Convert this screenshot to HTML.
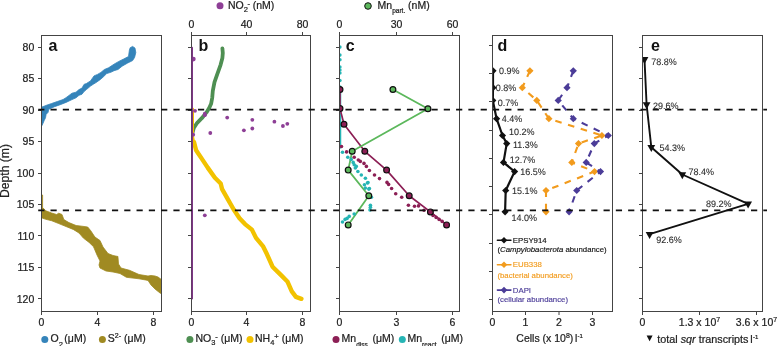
<!DOCTYPE html>
<html><head><meta charset="utf-8"><style>html,body{margin:0;padding:0;background:#fff;width:778px;height:346px;overflow:hidden}svg text{font-family:"Liberation Sans", sans-serif}svg{will-change:transform}</style></head>
<body><svg width="778" height="346" viewBox="0 0 778 346" style="display:block;font-family:'Liberation Sans', sans-serif"><defs><clipPath id="cla"><rect x="41.5" y="35.5" width="120.0" height="276.0"/></clipPath><clipPath id="clb"><rect x="191.5" y="35.5" width="119.0" height="276.0"/></clipPath><clipPath id="clc"><rect x="339.5" y="35.5" width="120.0" height="276.0"/></clipPath><clipPath id="cld"><rect x="492.5" y="35.5" width="120.0" height="276.0"/></clipPath><clipPath id="cle"><rect x="642.5" y="35.5" width="120.0" height="276.0"/></clipPath></defs>
<g clip-path="url(#cla)">
<polygon points="41.0,107.0 42.9,106.7 45.8,105.5 51.6,103.5 57.3,101.5 63.1,99.5 66.0,97.7 72.0,93.2 76.0,92.2 79.0,89.6 82.0,88.1 84.0,84.4 86.4,83.5 90.5,80.9 94.0,75.9 97.5,74.4 100.9,72.4 104.4,69.5 108.5,67.8 114.0,64.2 118.8,61.4 123.7,59.0 128.5,56.5 129.4,50.1 130.2,47.7 132.6,46.4 135.0,48.1 135.8,52.5 134.6,57.4 132.6,60.6 127.7,63.0 122.1,66.2 118.0,69.5 114.0,70.7 111.3,72.1 106.7,73.6 103.2,77.0 99.8,79.9 96.0,82.6 93.3,84.2 90.5,86.1 86.4,89.6 84.0,91.6 82.0,94.2 79.0,95.3 76.0,97.8 72.0,99.6 66.0,102.4 60.2,104.7 54.5,106.7 48.7,109.3 48.1,112.3 46.1,114.4 45.5,117.8 44.1,120.7 42.9,123.6 41.8,125.9 41.0,126.0" fill="#3584ba" stroke="#3584ba" stroke-width="0.8" stroke-linejoin="round"/>
<polygon points="41.5,195.0 42.6,195.0 42.6,207.5 45.8,210.8 51.6,213.0 56.6,214.5 58.8,213.2 62.0,214.5 63.8,219.5 68.9,222.6 76.1,225.5 81.9,226.2 87.7,227.0 90.6,230.5 94.9,237.0 100.0,240.5 103.0,247.0 108.0,253.5 113.0,255.5 118.0,256.5 118.0,257.5 118.5,264.0 121.0,268.0 129.5,270.3 139.0,274.5 148.0,276.0 151.0,275.5 155.0,276.0 158.0,277.0 162.0,280.0 162.0,294.0 160.0,293.0 155.0,289.0 151.0,285.0 148.0,280.4 139.0,278.8 126.4,277.3 120.0,273.5 113.0,272.0 106.0,271.0 100.0,268.0 99.0,265.0 100.0,261.0 97.0,255.0 93.5,246.7 89.1,242.4 83.4,238.1 79.0,233.0 73.2,229.4 66.0,226.5 58.8,223.6 51.6,220.7 45.8,219.3 41.5,217.8" fill="#a08a22" stroke="#a08a22" stroke-width="0.8" stroke-linejoin="round"/>
</g>
<g clip-path="url(#clb)">
<polyline points="222.4,48.3 222.8,53.0 222.4,57.9 220.6,64.8 217.2,74.4 214.5,82.2 212.8,90.9 212.2,98.0 211.1,103.8 209.3,107.8 206.5,112.4 201.8,118.2 197.2,122.8 193.8,128.0 192.6,132.6" fill="none" stroke="#4e8f52" stroke-width="3.8" stroke-linejoin="round" stroke-linecap="round" />
<polyline points="193.0,108.7 193.0,136.0 194.0,142.0" fill="none" stroke="#f2c200" stroke-width="2" stroke-linejoin="round" stroke-linecap="round" />
<polyline points="194.0,142.0 196.1,150.2 201.9,158.9 207.7,167.6 214.9,177.7 220.7,183.5 222.1,189.2 227.9,199.4 233.7,209.5 239.5,218.2 245.0,224.1 251.9,229.6 256.0,237.9 262.9,246.1 267.0,254.3 272.5,266.7 280.8,274.9 287.6,281.8 291.8,291.4 295.9,296.9 301.4,298.8" fill="none" stroke="#f2c200" stroke-width="4.4" stroke-linejoin="round" stroke-linecap="round" />
<circle cx="193.4" cy="59.1" r="2.3" fill="#8e3f96"/>
<circle cx="195.0" cy="110.8" r="1.9" fill="#8e3f96"/>
<circle cx="204.8" cy="113.7" r="1.9" fill="#8e3f96"/>
<circle cx="204.8" cy="115.2" r="1.9" fill="#8e3f96"/>
<circle cx="227.2" cy="117.6" r="1.9" fill="#8e3f96"/>
<circle cx="252.3" cy="119.8" r="1.9" fill="#8e3f96"/>
<circle cx="274.4" cy="121.7" r="1.9" fill="#8e3f96"/>
<circle cx="287.3" cy="123.8" r="1.9" fill="#8e3f96"/>
<circle cx="282.9" cy="126.0" r="1.9" fill="#8e3f96"/>
<circle cx="252.3" cy="128.5" r="1.9" fill="#8e3f96"/>
<circle cx="243.9" cy="130.3" r="1.9" fill="#8e3f96"/>
<circle cx="210.3" cy="133.0" r="1.9" fill="#8e3f96"/>
<circle cx="193.2" cy="134.7" r="1.9" fill="#8e3f96"/>
<circle cx="204.8" cy="215.3" r="1.9" fill="#8e3f96"/>
</g>
<g clip-path="url(#clc)">
<polyline points="340.6,86.0 340.6,148.0" fill="none" stroke="#26b5b5" stroke-width="1.3" stroke-linejoin="round" stroke-linecap="round" />
<polyline points="340.0,89.5 340.0,108.6 344.0,124.2 364.8,151.3 386.6,170.1 409.2,195.8 430.4,211.9 446.6,224.9" fill="none" stroke="#8c1f55" stroke-width="1.7" stroke-linejoin="round" stroke-linecap="round" />
<polyline points="392.9,89.5 427.9,108.7 352.2,151.3 348.2,170.1 368.8,195.8 348.2,224.9" fill="none" stroke="#5cb85c" stroke-width="1.8" stroke-linejoin="round" stroke-linecap="round" />
<circle cx="341.5" cy="146.5" r="1.8" fill="#8c1f55"/>
<circle cx="346.6" cy="151.9" r="1.8" fill="#8c1f55"/>
<circle cx="354.2" cy="157.3" r="1.8" fill="#8c1f55"/>
<circle cx="358.3" cy="160.0" r="1.8" fill="#8c1f55"/>
<circle cx="360.3" cy="161.4" r="1.8" fill="#8c1f55"/>
<circle cx="364.0" cy="163.4" r="1.8" fill="#8c1f55"/>
<circle cx="366.4" cy="166.4" r="1.8" fill="#8c1f55"/>
<circle cx="369.4" cy="170.5" r="1.8" fill="#8c1f55"/>
<circle cx="374.5" cy="175.0" r="1.8" fill="#8c1f55"/>
<circle cx="379.5" cy="178.6" r="1.8" fill="#8c1f55"/>
<circle cx="387.0" cy="182.4" r="1.8" fill="#8c1f55"/>
<circle cx="388.6" cy="184.4" r="1.8" fill="#8c1f55"/>
<circle cx="391.6" cy="188.5" r="1.8" fill="#8c1f55"/>
<circle cx="395.7" cy="193.7" r="1.8" fill="#8c1f55"/>
<circle cx="401.7" cy="197.2" r="1.8" fill="#8c1f55"/>
<circle cx="408.4" cy="205.3" r="1.8" fill="#8c1f55"/>
<circle cx="414.5" cy="206.3" r="1.8" fill="#8c1f55"/>
<circle cx="418.5" cy="205.9" r="1.8" fill="#8c1f55"/>
<circle cx="424.0" cy="210.3" r="1.8" fill="#8c1f55"/>
<circle cx="433.0" cy="215.4" r="1.8" fill="#8c1f55"/>
<circle cx="436.1" cy="217.4" r="1.8" fill="#8c1f55"/>
<circle cx="439.1" cy="219.4" r="1.8" fill="#8c1f55"/>
<circle cx="442.2" cy="221.4" r="1.8" fill="#8c1f55"/>
<circle cx="342.5" cy="152.3" r="1.8" fill="#26b5b5"/>
<circle cx="347.8" cy="157.3" r="1.8" fill="#26b5b5"/>
<circle cx="351.2" cy="159.4" r="1.8" fill="#26b5b5"/>
<circle cx="353.2" cy="162.4" r="1.8" fill="#26b5b5"/>
<circle cx="354.2" cy="164.8" r="1.8" fill="#26b5b5"/>
<circle cx="356.3" cy="166.4" r="1.8" fill="#26b5b5"/>
<circle cx="355.3" cy="168.0" r="1.8" fill="#26b5b5"/>
<circle cx="357.9" cy="171.5" r="1.8" fill="#26b5b5"/>
<circle cx="361.3" cy="175.0" r="1.8" fill="#26b5b5"/>
<circle cx="365.4" cy="178.2" r="1.8" fill="#26b5b5"/>
<circle cx="368.0" cy="182.6" r="1.8" fill="#26b5b5"/>
<circle cx="364.4" cy="184.7" r="1.8" fill="#26b5b5"/>
<circle cx="367.4" cy="183.0" r="1.8" fill="#26b5b5"/>
<circle cx="365.3" cy="188.1" r="1.8" fill="#26b5b5"/>
<circle cx="369.4" cy="188.5" r="1.8" fill="#26b5b5"/>
<circle cx="368.8" cy="189.1" r="1.8" fill="#26b5b5"/>
<circle cx="371.4" cy="197.2" r="1.8" fill="#26b5b5"/>
<circle cx="370.4" cy="205.3" r="1.8" fill="#26b5b5"/>
<circle cx="370.4" cy="207.3" r="1.8" fill="#26b5b5"/>
<circle cx="370.0" cy="209.9" r="1.8" fill="#26b5b5"/>
<circle cx="354.2" cy="214.0" r="1.8" fill="#26b5b5"/>
<circle cx="349.2" cy="216.4" r="1.8" fill="#26b5b5"/>
<circle cx="347.1" cy="218.4" r="1.8" fill="#26b5b5"/>
<circle cx="345.1" cy="219.4" r="1.8" fill="#26b5b5"/>
<circle cx="342.5" cy="222.0" r="1.8" fill="#26b5b5"/>
<circle cx="339.9" cy="47.1" r="1.8" fill="#26b5b5"/>
<circle cx="339.9" cy="55.1" r="1.8" fill="#26b5b5"/>
<circle cx="339.9" cy="59.8" r="1.8" fill="#26b5b5"/>
<circle cx="339.9" cy="67.0" r="1.8" fill="#26b5b5"/>
<circle cx="339.9" cy="70.0" r="1.8" fill="#26b5b5"/>
<circle cx="339.9" cy="73.0" r="1.8" fill="#26b5b5"/>
<circle cx="339.9" cy="80.5" r="1.8" fill="#26b5b5"/>
<circle cx="340.0" cy="89.5" r="2.9" fill="#8c1f55" stroke="#111" stroke-width="1.2"/>
<circle cx="340.0" cy="108.6" r="2.9" fill="#8c1f55" stroke="#111" stroke-width="1.2"/>
<circle cx="344.0" cy="124.2" r="2.9" fill="#8c1f55" stroke="#111" stroke-width="1.2"/>
<circle cx="364.8" cy="151.3" r="2.9" fill="#8c1f55" stroke="#111" stroke-width="1.2"/>
<circle cx="386.6" cy="170.1" r="2.9" fill="#8c1f55" stroke="#111" stroke-width="1.2"/>
<circle cx="409.2" cy="195.8" r="2.9" fill="#8c1f55" stroke="#111" stroke-width="1.2"/>
<circle cx="430.4" cy="211.9" r="2.9" fill="#8c1f55" stroke="#111" stroke-width="1.2"/>
<circle cx="446.6" cy="224.9" r="2.9" fill="#8c1f55" stroke="#111" stroke-width="1.2"/>
<circle cx="392.9" cy="89.5" r="2.9" fill="#5cb85c" stroke="#111" stroke-width="1.2"/>
<circle cx="427.9" cy="108.7" r="2.9" fill="#5cb85c" stroke="#111" stroke-width="1.2"/>
<circle cx="352.2" cy="151.3" r="2.9" fill="#5cb85c" stroke="#111" stroke-width="1.2"/>
<circle cx="348.2" cy="170.1" r="2.9" fill="#5cb85c" stroke="#111" stroke-width="1.2"/>
<circle cx="368.8" cy="195.8" r="2.9" fill="#5cb85c" stroke="#111" stroke-width="1.2"/>
<circle cx="348.2" cy="224.9" r="2.9" fill="#5cb85c" stroke="#111" stroke-width="1.2"/>
</g>
<g clip-path="url(#cld)">
<polyline points="529.9,70.8 522.3,87.7 536.8,100.4 548.9,118.7 601.9,135.5" fill="none" stroke="#f29b1d" stroke-width="2.1" stroke-dasharray="6.6,6.7" stroke-dashoffset="0.00" stroke-linejoin="miter"/>
<polyline points="601.9,135.5 578.5,143.6 571.8,162.4 594.5,171.6 546.0,190.5" fill="none" stroke="#f29b1d" stroke-width="2.1" stroke-dasharray="6.6,6.7" stroke-dashoffset="11.74" stroke-linejoin="miter"/>
<polyline points="546.0,190.5 546.0,211.8" fill="none" stroke="#f29b1d" stroke-width="2.1" stroke-dasharray="6.6,6.7" stroke-dashoffset="0.00" stroke-linejoin="miter"/>
<polyline points="573.3,70.8 567.0,87.7 558.2,100.4 573.3,118.7 608.3,135.5 594.3,143.6 586.2,162.4 600.5,171.6 576.7,190.5 569.1,211.8" fill="none" stroke="#4b3c98" stroke-width="2.1" stroke-dasharray="6.6,6.7" stroke-dashoffset="0.00" stroke-linejoin="miter"/>
<path d="M526.3 70.8l3.6 -3.6l3.6 3.6l-3.6 3.6z" fill="#f29b1d"/>
<path d="M518.7 87.7l3.6 -3.6l3.6 3.6l-3.6 3.6z" fill="#f29b1d"/>
<path d="M533.2 100.4l3.6 -3.6l3.6 3.6l-3.6 3.6z" fill="#f29b1d"/>
<path d="M545.3 118.7l3.6 -3.6l3.6 3.6l-3.6 3.6z" fill="#f29b1d"/>
<path d="M598.3 135.5l3.6 -3.6l3.6 3.6l-3.6 3.6z" fill="#f29b1d"/>
<path d="M574.9 143.6l3.6 -3.6l3.6 3.6l-3.6 3.6z" fill="#f29b1d"/>
<path d="M568.2 162.4l3.6 -3.6l3.6 3.6l-3.6 3.6z" fill="#f29b1d"/>
<path d="M590.9 171.6l3.6 -3.6l3.6 3.6l-3.6 3.6z" fill="#f29b1d"/>
<path d="M542.4 190.5l3.6 -3.6l3.6 3.6l-3.6 3.6z" fill="#f29b1d"/>
<path d="M542.4 211.8l3.6 -3.6l3.6 3.6l-3.6 3.6z" fill="#f29b1d"/>
<path d="M569.7 70.8l3.6 -3.6l3.6 3.6l-3.6 3.6z" fill="#4b3c98"/>
<path d="M563.4 87.7l3.6 -3.6l3.6 3.6l-3.6 3.6z" fill="#4b3c98"/>
<path d="M554.6 100.4l3.6 -3.6l3.6 3.6l-3.6 3.6z" fill="#4b3c98"/>
<path d="M569.7 118.7l3.6 -3.6l3.6 3.6l-3.6 3.6z" fill="#4b3c98"/>
<path d="M604.7 135.5l3.6 -3.6l3.6 3.6l-3.6 3.6z" fill="#4b3c98"/>
<path d="M590.7 143.6l3.6 -3.6l3.6 3.6l-3.6 3.6z" fill="#4b3c98"/>
<path d="M582.6 162.4l3.6 -3.6l3.6 3.6l-3.6 3.6z" fill="#4b3c98"/>
<path d="M596.9 171.6l3.6 -3.6l3.6 3.6l-3.6 3.6z" fill="#4b3c98"/>
<path d="M573.1 190.5l3.6 -3.6l3.6 3.6l-3.6 3.6z" fill="#4b3c98"/>
<path d="M565.5 211.8l3.6 -3.6l3.6 3.6l-3.6 3.6z" fill="#4b3c98"/>
<polyline points="493.0,70.8 493.0,87.7 492.8,100.4 496.6,118.7 502.5,135.5 506.7,143.6 503.5,162.4 514.6,171.6 505.7,190.5 505.1,211.8" fill="none" stroke="#111" stroke-width="2.2" stroke-linejoin="round" stroke-linecap="round" />
<path d="M489.4 70.8l3.6 -3.6l3.6 3.6l-3.6 3.6z" fill="#111"/>
<path d="M489.4 87.7l3.6 -3.6l3.6 3.6l-3.6 3.6z" fill="#111"/>
<path d="M489.2 100.4l3.6 -3.6l3.6 3.6l-3.6 3.6z" fill="#111"/>
<path d="M493.0 118.7l3.6 -3.6l3.6 3.6l-3.6 3.6z" fill="#111"/>
<path d="M498.9 135.5l3.6 -3.6l3.6 3.6l-3.6 3.6z" fill="#111"/>
<path d="M503.1 143.6l3.6 -3.6l3.6 3.6l-3.6 3.6z" fill="#111"/>
<path d="M499.9 162.4l3.6 -3.6l3.6 3.6l-3.6 3.6z" fill="#111"/>
<path d="M511.0 171.6l3.6 -3.6l3.6 3.6l-3.6 3.6z" fill="#111"/>
<path d="M502.1 190.5l3.6 -3.6l3.6 3.6l-3.6 3.6z" fill="#111"/>
<path d="M501.5 211.8l3.6 -3.6l3.6 3.6l-3.6 3.6z" fill="#111"/>
</g>
<text x="0" y="0" font-size="9.4" fill="#2a2a2a" stroke="#2a2a2a" stroke-width="0.1" text-rendering="geometricPrecision" transform="translate(499.10,73.90) scale(0.96,1.0)">0.9%</text>
<text x="0" y="0" font-size="9.4" fill="#2a2a2a" stroke="#2a2a2a" stroke-width="0.1" text-rendering="geometricPrecision" transform="translate(495.70,91.10) scale(0.96,1.0)">0.8%</text>
<text x="0" y="0" font-size="9.4" fill="#2a2a2a" stroke="#2a2a2a" stroke-width="0.1" text-rendering="geometricPrecision" transform="translate(497.70,106.40) scale(0.96,1.0)">0.7%</text>
<text x="0" y="0" font-size="9.4" fill="#2a2a2a" stroke="#2a2a2a" stroke-width="0.1" text-rendering="geometricPrecision" transform="translate(501.80,122.00) scale(0.96,1.0)">4.4%</text>
<text x="0" y="0" font-size="9.4" fill="#2a2a2a" stroke="#2a2a2a" stroke-width="0.1" text-rendering="geometricPrecision" transform="translate(508.90,134.90) scale(0.96,1.0)">10.2%</text>
<text x="0" y="0" font-size="9.4" fill="#2a2a2a" stroke="#2a2a2a" stroke-width="0.1" text-rendering="geometricPrecision" transform="translate(513.00,147.60) scale(0.96,1.0)">11.3%</text>
<text x="0" y="0" font-size="9.4" fill="#2a2a2a" stroke="#2a2a2a" stroke-width="0.1" text-rendering="geometricPrecision" transform="translate(509.80,162.90) scale(0.96,1.0)">12.7%</text>
<text x="0" y="0" font-size="9.4" fill="#2a2a2a" stroke="#2a2a2a" stroke-width="0.1" text-rendering="geometricPrecision" transform="translate(520.30,175.00) scale(0.96,1.0)">16.5%</text>
<text x="0" y="0" font-size="9.4" fill="#2a2a2a" stroke="#2a2a2a" stroke-width="0.1" text-rendering="geometricPrecision" transform="translate(512.00,194.10) scale(0.96,1.0)">15.1%</text>
<text x="0" y="0" font-size="9.4" fill="#2a2a2a" stroke="#2a2a2a" stroke-width="0.1" text-rendering="geometricPrecision" transform="translate(511.40,220.80) scale(0.96,1.0)">14.0%</text>
<polyline points="497.4,240.2 510.9,240.2" fill="none" stroke="#111" stroke-width="1.6" stroke-linejoin="round" stroke-linecap="round" />
<path d="M500.7 240.2l3.3 -3.3l3.3 3.3l-3.3 3.3z" fill="#111"/>
<polyline points="497.4,264.8 510.9,264.8" fill="none" stroke="#f29b1d" stroke-width="1.6" stroke-linejoin="round" stroke-linecap="round" />
<path d="M500.7 264.8l3.3 -3.3l3.3 3.3l-3.3 3.3z" fill="#f29b1d"/>
<polyline points="497.4,290.1 510.9,290.1" fill="none" stroke="#4b3c98" stroke-width="1.6" stroke-linejoin="round" stroke-linecap="round" />
<path d="M500.7 290.1l3.3 -3.3l3.3 3.3l-3.3 3.3z" fill="#4b3c98"/>
<text x="512.8" y="242.8" font-size="7.8" text-anchor="start" fill="#111" stroke="#111" stroke-width="0.15" font-weight="normal" >EPSY914</text>
<text x="497.4" y="252.4" font-size="7.8" text-anchor="start" fill="#111" stroke="#111" stroke-width="0.15" font-weight="normal" >(<tspan font-style="italic">Campylobacterota</tspan> abundance)</text>
<text x="512.8" y="267.4" font-size="7.8" text-anchor="start" fill="#f29b1d" stroke="#f29b1d" stroke-width="0.15" font-weight="normal" >EUB338</text>
<text x="497.4" y="278.1" font-size="7.8" text-anchor="start" fill="#f29b1d" stroke="#f29b1d" stroke-width="0.15" font-weight="normal" >(bacterial abundance)</text>
<text x="512.8" y="292.7" font-size="7.8" text-anchor="start" fill="#4b3c98" stroke="#4b3c98" stroke-width="0.15" font-weight="normal" >DAPI</text>
<text x="497.4" y="301.5" font-size="7.8" text-anchor="start" fill="#4b3c98" stroke="#4b3c98" stroke-width="0.15" font-weight="normal" >(cellular abundance)</text>
<g clip-path="url(#cle)">
<polyline points="644.5,59.4 646.6,104.5 651.3,147.2 682.3,174.5 748.1,203.8 649.6,234.2" fill="none" stroke="#111" stroke-width="1.9" stroke-linejoin="round" stroke-linecap="round" />
<path d="M640.6 57.1h7.8l-3.9 7z" fill="#111"/>
<path d="M642.7 102.2h7.8l-3.9 7z" fill="#111"/>
<path d="M647.4 144.9h7.8l-3.9 7z" fill="#111"/>
<path d="M678.4 172.2h7.8l-3.9 7z" fill="#111"/>
<path d="M744.2 201.5h7.8l-3.9 7z" fill="#111"/>
<path d="M645.7 231.9h7.8l-3.9 7z" fill="#111"/>
</g>
<text x="0" y="0" font-size="9.4" fill="#2a2a2a" stroke="#2a2a2a" stroke-width="0.1" text-rendering="geometricPrecision" transform="translate(651.20,64.50) scale(0.96,1.0)">78.8%</text>
<text x="0" y="0" font-size="9.4" fill="#2a2a2a" stroke="#2a2a2a" stroke-width="0.1" text-rendering="geometricPrecision" transform="translate(653.00,108.70) scale(0.96,1.0)">29.6%</text>
<text x="0" y="0" font-size="9.4" fill="#2a2a2a" stroke="#2a2a2a" stroke-width="0.1" text-rendering="geometricPrecision" transform="translate(659.50,151.40) scale(0.96,1.0)">54.3%</text>
<text x="0" y="0" font-size="9.4" fill="#2a2a2a" stroke="#2a2a2a" stroke-width="0.1" text-rendering="geometricPrecision" transform="translate(688.50,175.00) scale(0.96,1.0)">78.4%</text>
<text x="0" y="0" font-size="9.4" fill="#2a2a2a" stroke="#2a2a2a" stroke-width="0.1" text-rendering="geometricPrecision" transform="translate(705.90,206.90) scale(0.96,1.0)">89.2%</text>
<text x="0" y="0" font-size="9.4" fill="#2a2a2a" stroke="#2a2a2a" stroke-width="0.1" text-rendering="geometricPrecision" transform="translate(656.30,242.60) scale(0.96,1.0)">92.6%</text>
<rect x="41.5" y="35.5" width="120.0" height="276.0" fill="none" stroke="#444" stroke-width="1"/>
<rect x="191.5" y="35.5" width="119.0" height="276.0" fill="none" stroke="#444" stroke-width="1"/>
<rect x="339.5" y="35.5" width="120.0" height="276.0" fill="none" stroke="#444" stroke-width="1"/>
<rect x="492.5" y="35.5" width="120.0" height="276.0" fill="none" stroke="#444" stroke-width="1"/>
<rect x="642.5" y="35.5" width="120.0" height="276.0" fill="none" stroke="#444" stroke-width="1"/>
<polyline points="192.2,47.5 192.2,298.8" fill="none" stroke="#7d3585" stroke-width="1.6" stroke-linejoin="round" stroke-linecap="round" />
<line x1="38.0" y1="47.5" x2="41.5" y2="47.5" stroke="#444" stroke-width="1"/>
<line x1="38.0" y1="78.5" x2="41.5" y2="78.5" stroke="#444" stroke-width="1"/>
<line x1="38.0" y1="110.5" x2="41.5" y2="110.5" stroke="#444" stroke-width="1"/>
<line x1="38.0" y1="141.5" x2="41.5" y2="141.5" stroke="#444" stroke-width="1"/>
<line x1="38.0" y1="173.5" x2="41.5" y2="173.5" stroke="#444" stroke-width="1"/>
<line x1="38.0" y1="204.5" x2="41.5" y2="204.5" stroke="#444" stroke-width="1"/>
<line x1="38.0" y1="235.5" x2="41.5" y2="235.5" stroke="#444" stroke-width="1"/>
<line x1="38.0" y1="267.5" x2="41.5" y2="267.5" stroke="#444" stroke-width="1"/>
<line x1="38.0" y1="298.5" x2="41.5" y2="298.5" stroke="#444" stroke-width="1"/>
<line x1="188.0" y1="47.5" x2="191.5" y2="47.5" stroke="#444" stroke-width="1"/>
<line x1="188.0" y1="78.5" x2="191.5" y2="78.5" stroke="#444" stroke-width="1"/>
<line x1="188.0" y1="110.5" x2="191.5" y2="110.5" stroke="#444" stroke-width="1"/>
<line x1="188.0" y1="141.5" x2="191.5" y2="141.5" stroke="#444" stroke-width="1"/>
<line x1="188.0" y1="173.5" x2="191.5" y2="173.5" stroke="#444" stroke-width="1"/>
<line x1="188.0" y1="204.5" x2="191.5" y2="204.5" stroke="#444" stroke-width="1"/>
<line x1="188.0" y1="235.5" x2="191.5" y2="235.5" stroke="#444" stroke-width="1"/>
<line x1="188.0" y1="267.5" x2="191.5" y2="267.5" stroke="#444" stroke-width="1"/>
<line x1="188.0" y1="298.5" x2="191.5" y2="298.5" stroke="#444" stroke-width="1"/>
<line x1="336.0" y1="47.5" x2="339.5" y2="47.5" stroke="#444" stroke-width="1"/>
<line x1="336.0" y1="78.5" x2="339.5" y2="78.5" stroke="#444" stroke-width="1"/>
<line x1="336.0" y1="110.5" x2="339.5" y2="110.5" stroke="#444" stroke-width="1"/>
<line x1="336.0" y1="141.5" x2="339.5" y2="141.5" stroke="#444" stroke-width="1"/>
<line x1="336.0" y1="173.5" x2="339.5" y2="173.5" stroke="#444" stroke-width="1"/>
<line x1="336.0" y1="204.5" x2="339.5" y2="204.5" stroke="#444" stroke-width="1"/>
<line x1="336.0" y1="235.5" x2="339.5" y2="235.5" stroke="#444" stroke-width="1"/>
<line x1="336.0" y1="267.5" x2="339.5" y2="267.5" stroke="#444" stroke-width="1"/>
<line x1="336.0" y1="298.5" x2="339.5" y2="298.5" stroke="#444" stroke-width="1"/>
<line x1="489.0" y1="45.5" x2="492.5" y2="45.5" stroke="#444" stroke-width="1"/>
<line x1="489.0" y1="73.5" x2="492.5" y2="73.5" stroke="#444" stroke-width="1"/>
<line x1="489.0" y1="101.5" x2="492.5" y2="101.5" stroke="#444" stroke-width="1"/>
<line x1="489.0" y1="130.5" x2="492.5" y2="130.5" stroke="#444" stroke-width="1"/>
<line x1="489.0" y1="158.5" x2="492.5" y2="158.5" stroke="#444" stroke-width="1"/>
<line x1="489.0" y1="186.5" x2="492.5" y2="186.5" stroke="#444" stroke-width="1"/>
<line x1="489.0" y1="214.5" x2="492.5" y2="214.5" stroke="#444" stroke-width="1"/>
<line x1="489.0" y1="243.5" x2="492.5" y2="243.5" stroke="#444" stroke-width="1"/>
<line x1="489.0" y1="271.5" x2="492.5" y2="271.5" stroke="#444" stroke-width="1"/>
<line x1="489.0" y1="299.5" x2="492.5" y2="299.5" stroke="#444" stroke-width="1"/>
<line x1="639.0" y1="47.5" x2="642.5" y2="47.5" stroke="#444" stroke-width="1"/>
<line x1="639.0" y1="78.5" x2="642.5" y2="78.5" stroke="#444" stroke-width="1"/>
<line x1="639.0" y1="110.5" x2="642.5" y2="110.5" stroke="#444" stroke-width="1"/>
<line x1="639.0" y1="141.5" x2="642.5" y2="141.5" stroke="#444" stroke-width="1"/>
<line x1="639.0" y1="173.5" x2="642.5" y2="173.5" stroke="#444" stroke-width="1"/>
<line x1="639.0" y1="204.5" x2="642.5" y2="204.5" stroke="#444" stroke-width="1"/>
<line x1="639.0" y1="235.5" x2="642.5" y2="235.5" stroke="#444" stroke-width="1"/>
<line x1="639.0" y1="267.5" x2="642.5" y2="267.5" stroke="#444" stroke-width="1"/>
<line x1="639.0" y1="298.5" x2="642.5" y2="298.5" stroke="#444" stroke-width="1"/>
<text x="34.3" y="51.0" font-size="10.5" text-anchor="end" fill="#222" stroke="#222" stroke-width="0.22" font-weight="normal" >80</text>
<text x="34.3" y="82.4" font-size="10.5" text-anchor="end" fill="#222" stroke="#222" stroke-width="0.22" font-weight="normal" >85</text>
<text x="34.3" y="113.9" font-size="10.5" text-anchor="end" fill="#222" stroke="#222" stroke-width="0.22" font-weight="normal" >90</text>
<text x="34.3" y="145.3" font-size="10.5" text-anchor="end" fill="#222" stroke="#222" stroke-width="0.22" font-weight="normal" >95</text>
<text x="34.3" y="176.8" font-size="10.5" text-anchor="end" fill="#222" stroke="#222" stroke-width="0.22" font-weight="normal" >100</text>
<text x="34.3" y="208.2" font-size="10.5" text-anchor="end" fill="#222" stroke="#222" stroke-width="0.22" font-weight="normal" >105</text>
<text x="34.3" y="239.6" font-size="10.5" text-anchor="end" fill="#222" stroke="#222" stroke-width="0.22" font-weight="normal" >110</text>
<text x="34.3" y="271.1" font-size="10.5" text-anchor="end" fill="#222" stroke="#222" stroke-width="0.22" font-weight="normal" >115</text>
<text x="34.3" y="302.5" font-size="10.5" text-anchor="end" fill="#222" stroke="#222" stroke-width="0.22" font-weight="normal" >120</text>
<text x="0" y="0" font-size="12.2" text-anchor="middle" fill="#222" stroke="#222" stroke-width="0.22" transform="translate(9.3,171) rotate(-90)">Depth (m)</text>
<line x1="41.5" y1="311.5" x2="41.5" y2="315.0" stroke="#444" stroke-width="1"/>
<text x="41.5" y="325.9" font-size="10.5" text-anchor="middle" fill="#222" stroke="#222" stroke-width="0.22" font-weight="normal" >0</text>
<line x1="97.5" y1="311.5" x2="97.5" y2="315.0" stroke="#444" stroke-width="1"/>
<text x="97.5" y="325.9" font-size="10.5" text-anchor="middle" fill="#222" stroke="#222" stroke-width="0.22" font-weight="normal" >4</text>
<line x1="153.5" y1="311.5" x2="153.5" y2="315.0" stroke="#444" stroke-width="1"/>
<text x="153.5" y="325.9" font-size="10.5" text-anchor="middle" fill="#222" stroke="#222" stroke-width="0.22" font-weight="normal" >8</text>
<line x1="191.5" y1="311.5" x2="191.5" y2="315.0" stroke="#444" stroke-width="1"/>
<text x="191.5" y="325.9" font-size="10.5" text-anchor="middle" fill="#222" stroke="#222" stroke-width="0.22" font-weight="normal" >0</text>
<line x1="246.5" y1="311.5" x2="246.5" y2="315.0" stroke="#444" stroke-width="1"/>
<text x="246.5" y="325.9" font-size="10.5" text-anchor="middle" fill="#222" stroke="#222" stroke-width="0.22" font-weight="normal" >4</text>
<line x1="302.5" y1="311.5" x2="302.5" y2="315.0" stroke="#444" stroke-width="1"/>
<text x="302.5" y="325.9" font-size="10.5" text-anchor="middle" fill="#222" stroke="#222" stroke-width="0.22" font-weight="normal" >8</text>
<line x1="339.5" y1="311.5" x2="339.5" y2="315.0" stroke="#444" stroke-width="1"/>
<text x="339.5" y="325.9" font-size="10.5" text-anchor="middle" fill="#222" stroke="#222" stroke-width="0.22" font-weight="normal" >0</text>
<line x1="396.5" y1="311.5" x2="396.5" y2="315.0" stroke="#444" stroke-width="1"/>
<text x="396.5" y="325.9" font-size="10.5" text-anchor="middle" fill="#222" stroke="#222" stroke-width="0.22" font-weight="normal" >3</text>
<line x1="452.5" y1="311.5" x2="452.5" y2="315.0" stroke="#444" stroke-width="1"/>
<text x="452.5" y="325.9" font-size="10.5" text-anchor="middle" fill="#222" stroke="#222" stroke-width="0.22" font-weight="normal" >6</text>
<line x1="492.5" y1="311.5" x2="492.5" y2="315.0" stroke="#444" stroke-width="1"/>
<text x="492.5" y="325.9" font-size="10.5" text-anchor="middle" fill="#222" stroke="#222" stroke-width="0.22" font-weight="normal" >0</text>
<line x1="525.5" y1="311.5" x2="525.5" y2="315.0" stroke="#444" stroke-width="1"/>
<text x="525.5" y="325.9" font-size="10.5" text-anchor="middle" fill="#222" stroke="#222" stroke-width="0.22" font-weight="normal" >1</text>
<line x1="559.0" y1="311.5" x2="559.0" y2="315.0" stroke="#444" stroke-width="1"/>
<text x="559.0" y="325.9" font-size="10.5" text-anchor="middle" fill="#222" stroke="#222" stroke-width="0.22" font-weight="normal" >2</text>
<line x1="592.5" y1="311.5" x2="592.5" y2="315.0" stroke="#444" stroke-width="1"/>
<text x="592.5" y="325.9" font-size="10.5" text-anchor="middle" fill="#222" stroke="#222" stroke-width="0.22" font-weight="normal" >3</text>
<line x1="642.5" y1="311.5" x2="642.5" y2="315.0" stroke="#444" stroke-width="1"/>
<text x="642.5" y="325.9" font-size="10.5" text-anchor="middle" fill="#222" stroke="#222" stroke-width="0.22" font-weight="normal" >0</text>
<line x1="699.5" y1="311.5" x2="699.5" y2="315.0" stroke="#444" stroke-width="1"/>
<text x="699.5" y="325.9" font-size="10.5" text-anchor="middle" fill="#222" stroke="#222" stroke-width="0.22" font-weight="normal" >1.3 x 10<tspan dy="-4" font-size="7">7</tspan></text>
<line x1="756.5" y1="311.5" x2="756.5" y2="315.0" stroke="#444" stroke-width="1"/>
<text x="756.5" y="325.9" font-size="10.5" text-anchor="middle" fill="#222" stroke="#222" stroke-width="0.22" font-weight="normal" >3.6 x 10<tspan dy="-4" font-size="7">7</tspan></text>
<line x1="191.5" y1="32.0" x2="191.5" y2="35.5" stroke="#444" stroke-width="1"/>
<text x="191.5" y="28.2" font-size="10.5" text-anchor="middle" fill="#222" stroke="#222" stroke-width="0.22" font-weight="normal" >0</text>
<line x1="246.5" y1="32.0" x2="246.5" y2="35.5" stroke="#444" stroke-width="1"/>
<text x="246.5" y="28.2" font-size="10.5" text-anchor="middle" fill="#222" stroke="#222" stroke-width="0.22" font-weight="normal" >40</text>
<line x1="302.5" y1="32.0" x2="302.5" y2="35.5" stroke="#444" stroke-width="1"/>
<text x="302.5" y="28.2" font-size="10.5" text-anchor="middle" fill="#222" stroke="#222" stroke-width="0.22" font-weight="normal" >80</text>
<line x1="339.5" y1="32.0" x2="339.5" y2="35.5" stroke="#444" stroke-width="1"/>
<text x="339.5" y="28.2" font-size="10.5" text-anchor="middle" fill="#222" stroke="#222" stroke-width="0.22" font-weight="normal" >0</text>
<line x1="396.5" y1="32.0" x2="396.5" y2="35.5" stroke="#444" stroke-width="1"/>
<text x="396.5" y="28.2" font-size="10.5" text-anchor="middle" fill="#222" stroke="#222" stroke-width="0.22" font-weight="normal" >30</text>
<line x1="452.5" y1="32.0" x2="452.5" y2="35.5" stroke="#444" stroke-width="1"/>
<text x="452.5" y="28.2" font-size="10.5" text-anchor="middle" fill="#222" stroke="#222" stroke-width="0.22" font-weight="normal" >60</text>
<text x="48.5" y="50.6" font-size="16" text-anchor="start" fill="#111" stroke="#111" stroke-width="0" font-weight="bold" >a</text>
<text x="198.5" y="50.6" font-size="16" text-anchor="start" fill="#111" stroke="#111" stroke-width="0" font-weight="bold" >b</text>
<text x="345.8" y="50.6" font-size="16" text-anchor="start" fill="#111" stroke="#111" stroke-width="0" font-weight="bold" >c</text>
<text x="497.5" y="50.6" font-size="16" text-anchor="start" fill="#111" stroke="#111" stroke-width="0" font-weight="bold" >d</text>
<text x="651.0" y="50.6" font-size="16" text-anchor="start" fill="#111" stroke="#111" stroke-width="0" font-weight="bold" >e</text>
<line x1="38.21" y1="109.65" x2="767" y2="109.65" stroke="#111" stroke-width="1.8" stroke-dasharray="6.2,6.09"/>
<line x1="38.21" y1="210.30" x2="767" y2="210.30" stroke="#111" stroke-width="1.8" stroke-dasharray="6.2,6.09"/>
<circle cx="220.0" cy="5.7" r="3.5" fill="#8e3f96" />
<text x="228.0" y="9.4" font-size="10.5" text-anchor="start" fill="#222" stroke="#222" stroke-width="0.22" font-weight="normal" >NO<tspan dy="3" font-size="7.5">2</tspan><tspan dy="-6.5" dx="-0.5" font-size="7.5">-</tspan><tspan dy="3.5" dx="-0.2"> (nM)</tspan></text>
<circle cx="368.0" cy="6.0" r="3.3" fill="#5cb85c" stroke="#111" stroke-width="1"/>
<text x="377.6" y="9.4" font-size="10.5" text-anchor="start" fill="#222" stroke="#222" stroke-width="0.22" font-weight="normal" >Mn<tspan dy="3.8" font-size="6.5">part.</tspan><tspan dy="-3.8"> (nM)</tspan></text>
<circle cx="44.8" cy="339.4" r="3.5" fill="#3584ba" />
<text x="50.6" y="342.4" font-size="10.5" text-anchor="start" fill="#222" stroke="#222" stroke-width="0.22" font-weight="normal" >O<tspan dy="4.2" font-size="7.5">2</tspan><tspan dy="-4.2" dx="-1.5"> (μM)</tspan></text>
<circle cx="102.4" cy="339.4" r="3.5" fill="#a08a22" />
<text x="107.8" y="342.4" font-size="10.5" text-anchor="start" fill="#222" stroke="#222" stroke-width="0.22" font-weight="normal" >S<tspan dy="-4" font-size="7">2-</tspan><tspan dy="4"> (μM)</tspan></text>
<circle cx="189.9" cy="339.4" r="3.5" fill="#4e8f52" />
<text x="195.4" y="342.4" font-size="10.5" text-anchor="start" fill="#222" stroke="#222" stroke-width="0.22" font-weight="normal" >NO<tspan dy="3" font-size="7.5">3</tspan><tspan dy="-6.5" font-size="7.5">-</tspan><tspan dy="3.5"> (μM)</tspan></text>
<circle cx="250.0" cy="339.4" r="3.5" fill="#f2c200" />
<text x="255.0" y="342.4" font-size="10.5" text-anchor="start" fill="#222" stroke="#222" stroke-width="0.22" font-weight="normal" >NH<tspan dy="3" font-size="7.5">4</tspan><tspan dy="-6.5" font-size="7.5">+</tspan><tspan dy="3.5"> (μM)</tspan></text>
<circle cx="336.0" cy="339.4" r="3.5" fill="#8c1f55" />
<text x="341.6" y="342.4" font-size="10.5" text-anchor="start" fill="#222" stroke="#222" stroke-width="0.22" font-weight="normal" >Mn<tspan dy="4.2" font-size="6.5">diss.</tspan><tspan dy="-4.2"> (μM)</tspan></text>
<circle cx="402.3" cy="339.4" r="3.5" fill="#26b5b5" />
<text x="407.4" y="342.4" font-size="10.5" text-anchor="start" fill="#222" stroke="#222" stroke-width="0.22" font-weight="normal" >Mn<tspan dy="4.2" font-size="6.5">react.</tspan><tspan dy="-4.2"> (μM)</tspan></text>
<text x="516.3" y="342.4" font-size="10.5" text-anchor="start" fill="#222" stroke="#222" stroke-width="0.22" font-weight="normal" >Cells (x 10<tspan dy="-4" font-size="7">8</tspan><tspan dy="4">)</tspan><tspan dx="1.6">l</tspan><tspan dy="-4" dx="0.3" font-size="6">-1</tspan></text>
<path d="M646.6 335.4h6l-3 5.8z" fill="#111"/>
<text x="657.3" y="342.5" font-size="10.8" text-anchor="start" fill="#222" stroke="#222" stroke-width="0.22" font-weight="normal" >total <tspan font-style="italic">sqr</tspan> transcripts<tspan dx="1.8">l</tspan><tspan dy="-4" dx="0.3" font-size="6">-1</tspan></text></svg></body></html>
